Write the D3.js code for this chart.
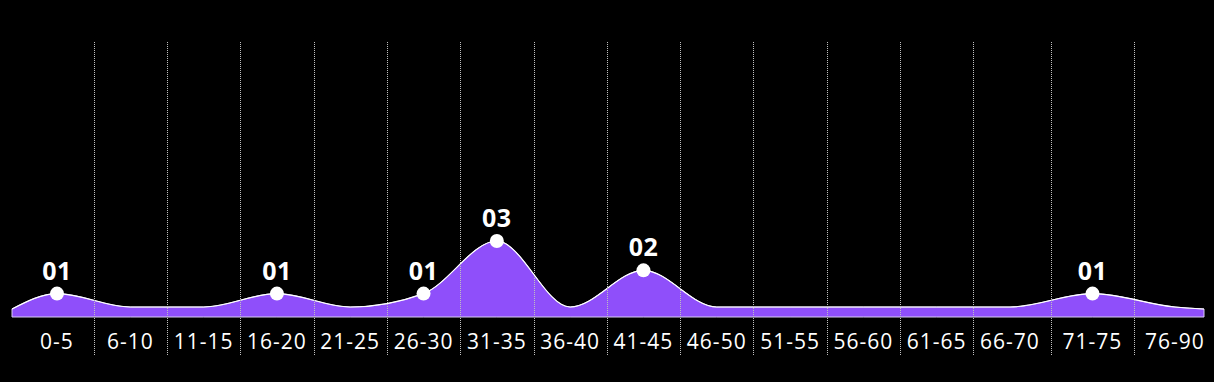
<!DOCTYPE html>
<html>
<head>
<meta charset="utf-8">
<script src="https://cdn.jsdelivr.net/npm/d3@7/dist/d3.min.js"></script>
<style>
  html, body { margin: 0; padding: 0; background: #000; }
  svg { display: block; }
</style>
</head>
<body>
<svg id="chart" width="1214" height="382"></svg>
<script>
const categories = ["0-5","6-10","11-15","16-20","21-25","26-30","31-35","36-40","41-45","46-50","51-55","56-60","61-65","66-70","71-75","76-90"];
const values = [1,0,0,1,0,1,3,0,2,0,0,0,0,0,1,0];
const valueLabels = ["01","","","01","","01","03","","02","","","","","","01",""];

const W = 1214, H = 382;
const svg = d3.select("#chart");
svg.append("rect").attr("width", W).attr("height", H).attr("fill", "#000");

const x = d3.scaleLinear().domain([0, 13, 15]).range([57, 1010, 1175]);
const y = d3.scalePow().exponent(1.45).domain([0, 3]).range([307, 241]);
const baseY = 317;
const leftEdge = 12, rightEdge = 1204;

const pts = values.map((v, i) => ({ px: x(i), py: y(v), v, i }));
const areaPts = [{ px: leftEdge, py: y(0) + 2 }].concat(pts, [{ px: rightEdge, py: y(0) + 2 }]);

const area = d3.area()
  .x(d => d.px)
  .y0(baseY)
  .y1(d => d.py)
  .curve(d3.curveMonotoneX);
const line = d3.line()
  .x(d => d.px)
  .y(d => d.py)
  .curve(d3.curveMonotoneX);

svg.append("path")
  .datum(areaPts)
  .attr("d", area)
  .attr("fill", "#8f4ffa")
  .attr("stroke", "#d9ccf5")
  .attr("stroke-width", 1);

svg.append("path")
  .datum(areaPts)
  .attr("d", line)
  .attr("fill", "none")
  .attr("stroke", "#ffffff")
  .attr("stroke-width", 1.2);

// dividers
const dividers = d3.range(categories.length - 1).map(i => x(i + 0.5));
svg.append("g").selectAll("line")
  .data(dividers)
  .join("line")
  .attr("x1", d => Math.round(d) + 0.5)
  .attr("x2", d => Math.round(d) + 0.5)
  .attr("y1", 42)
  .attr("y2", 355)
  .attr("stroke", "#c0c0c0")
  .attr("stroke-width", 1)
  .attr("stroke-dasharray", "1,1");

// category labels
svg.append("g").selectAll("text")
  .data(categories)
  .join("text")
  .attr("x", (d, i) => x(i))
  .attr("y", 349)
  .attr("text-anchor", "middle")
  .attr("fill", "#ffffff")
  .attr("font-family", "'Open Sans', sans-serif")
  .attr("font-size", 21)
  .attr("letter-spacing", 1)
  .text(d => d);

// dots and value labels
const nonZero = pts.filter(d => d.v > 0);
svg.append("g").selectAll("circle")
  .data(nonZero)
  .join("circle")
  .attr("cx", d => d.px)
  .attr("cy", d => d.py)
  .attr("r", 7)
  .attr("fill", "#ffffff");

svg.append("g").selectAll("text")
  .data(nonZero)
  .join("text")
  .attr("x", d => d.px)
  .attr("y", d => d.py - 14)
  .attr("text-anchor", "middle")
  .attr("fill", "#ffffff")
  .attr("font-family", "'Open Sans', sans-serif")
  .attr("font-weight", 700)
  .attr("font-size", 25)
  .attr("letter-spacing", 0.5)
  .text(d => valueLabels[d.i]);
</script>
</body>
</html>
